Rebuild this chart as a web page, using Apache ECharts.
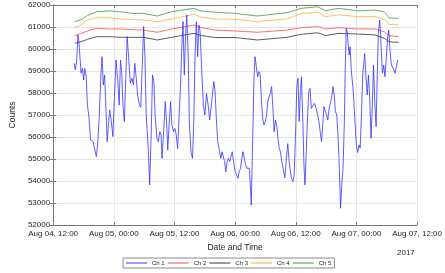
<!DOCTYPE html>
<html><head><meta charset="utf-8">
<script src="https://cdn.jsdelivr.net/npm/echarts@6/dist/echarts.min.js"></script>
<style>html,body{margin:0;padding:0;background:#fff}#c{width:445px;height:273px}</style>
</head><body><div id="c"></div>
<script>
// x values are hours after Aug 04, 12:00 (2017)
const xTickLabels = ['Aug 04, 12:00','Aug 05, 00:00','Aug 05, 12:00','Aug 06, 00:00','Aug 06, 12:00','Aug 07, 00:00','Aug 07, 12:00'];
const yearLabel = '2017';
const seriesNames = ['Ch 1','Ch 2','Ch 3','Ch 4','Ch 5'];

const ch1Hours = [4.15,4.39,4.66,4.90,5.09,5.28,5.52,5.79,6.03,6.28,6.54,6.78,7.11,7.41,7.67,7.92,8.16,8.54,8.80,9.10,9.42,9.67,9.93,10.18,10.42,10.69,10.93,11.18,11.44,11.82,12.12,12.44,12.76,13.06,13.32,13.57,13.81,14.08,14.32,14.64,14.95,15.27,15.59,15.89,16.15,16.45,16.72,17.09,17.34,17.90,18.15,18.41,18.85,19.09,19.41,19.66,19.92,20.17,20.54,20.79,21.11,21.35,21.54,21.86,22.18,22.43,22.67,22.94,23.24,23.50,23.80,24.07,24.31,24.63,24.93,25.20,25.44,25.69,25.95,26.20,26.44,26.71,26.95,27.27,27.57,27.84,28.08,28.33,28.59,28.84,29.08,29.40,29.72,30.02,30.34,30.66,30.97,31.29,31.79,32.04,32.28,32.55,32.93,33.17,33.42,33.68,33.92,34.17,34.43,34.68,34.92,35.19,35.43,35.68,36.00,36.32,36.56,36.81,37.07,37.32,37.56,37.83,38.07,38.32,38.58,38.82,39.07,39.20,39.45,39.71,39.95,40.20,40.46,40.71,40.95,41.22,41.46,41.71,41.97,42.22,42.46,42.73,42.97,43.22,43.48,43.72,43.97,44.23,44.48,44.72,44.99,45.23,45.48,45.84,46.17,46.42,46.68,46.93,47.17,47.44,47.68,47.93,48.19,48.44,48.68,48.94,49.13,49.38,49.62,49.81,50.08,50.32,50.57,50.83,51.07,51.40,51.70,52.02,52.34,52.58,52.83,53.09,53.34,53.58,53.85,54.09,54.34,54.60,54.84,55.09,55.35,55.60,55.84,56.11,56.35,56.60,56.86,57.10,57.35,57.61,57.80,57.99,58.18,58.37,58.56,58.75,58.99,59.37,59.74,59.99,60.25,60.50,60.74,61.01,61.25,61.63,61.87,62.14,62.38,62.63,62.89,63.14,63.38,63.65,63.89,64.14,64.32,64.59,64.78,64.96,65.15,65.40,65.64,65.91,66.15,66.40,66.66,66.91,67.15,67.41,67.66,67.90,68.17];
const ch1 = [59350,59050,59500,60640,60330,59730,58900,59120,58590,59120,58740,57450,56850,55860,55940,55790,55480,55110,55640,56850,58670,59650,58360,58820,57450,55790,56550,57230,56850,56020,57760,59500,58670,57450,59500,58970,57450,56700,58360,60560,59580,58440,58670,58360,59350,58670,57910,57450,57350,61020,59730,57000,55330,53820,56240,58820,58520,57000,55940,55790,56240,56090,55030,56240,57610,56700,55410,56550,57610,56550,56240,56390,56170,55480,57000,58360,60030,61250,58820,60640,61550,59730,56700,55330,55030,56850,59730,61240,59650,61090,60790,58970,57450,57000,57980,57450,56770,56700,58520,58060,56850,55790,55330,55030,55330,55410,54880,54420,54880,55030,54880,55110,55330,54880,54420,54270,54120,54420,54580,55030,55330,55030,54730,54580,54650,54580,53520,52910,55640,58520,59650,59200,58740,58970,58820,57610,56850,56550,56700,57000,57610,57830,57980,58290,57300,56240,56770,56550,55940,55480,55330,54880,54580,54150,55100,55700,54880,54420,54120,53970,54270,55940,58210,58670,56700,58210,58740,56850,54730,53820,55330,56850,58060,58210,57300,57380,57530,57300,57000,56700,56240,55790,56550,57380,57450,57000,56770,57300,57530,57760,58290,57910,57150,57000,56090,54730,52760,53820,54580,56700,59270,60940,60790,60180,59730,60100,59000,58100,56600,55600,55300,55640,55490,57150,58820,59800,58820,57910,58820,57760,55940,57450,59270,57450,56470,58970,60640,61320,60640,59730,58900,59270,58740,59580,60490,60860,59880,59270,59200,59050,58900,59200,59500];

const slowHours = [4.28,5.52,6.78,8.67,11.18,13.70,15.64,17.85,20.60,23.43,27.84,29.08,32.10,36.00,40.39,46.23,49.19,52.34,53.90,56.41,60.37,63.65,65.53,66.47,68.36];
const ch2 = [60600,60710,60820,60940,60910,60910,60880,60860,60760,60910,61090,60980,60860,60820,60760,60860,60970,61020,60910,60970,60910,60910,60780,60610,60560];
const ch3 = [60260,60330,60440,60560,60560,60530,60530,60530,60410,60530,60710,60620,60520,60520,60410,60530,60670,60740,60610,60710,60680,60640,60480,60330,60300];
const ch4 = [60970,61090,61320,61420,61420,61360,61340,61320,61240,61360,61580,61450,61360,61360,61240,61370,61620,61670,61470,61550,61470,61470,61340,61120,61090];
const ch5 = [61240,61330,61520,61700,61730,61680,61620,61620,61500,61700,61850,61730,61670,61620,61500,61650,61850,61920,61740,61850,61730,61770,61680,61420,61390];

const colors = ['#3535ff','#ff4a4a','#333333','#ffb03a','#3aa03a'];
const font = "'Liberation Sans', Arial, Helvetica, sans-serif";
const txt = '#262626';
const pair = (xs, ys) => xs.map((x, i) => [x, ys[i]]);
const data = [pair(ch1Hours, ch1), pair(slowHours, ch2), pair(slowHours, ch3), pair(slowHours, ch4), pair(slowHours, ch5)];

const chart = echarts.init(document.getElementById('c'), null, {renderer: 'canvas'});
const axisLine = {show: true, lineStyle: {color: '#7a7a7a', width: 1}};
const tick = {show: true, inside: true, length: 3, lineStyle: {color: '#7a7a7a'}};
const split = {show: true, lineStyle: {color: '#e6e6e6', width: 1}};
chart.setOption({
  animation: false,
  backgroundColor: '#fff',
  textStyle: {fontFamily: font},
  grid: {left: 39, right: 24, top: 5, bottom: 48, containLabel: false},
  xAxis: [{
    type: 'value', min: 0, max: 72, interval: 12,
    axisLine, axisTick: tick, splitLine: split,
    axisLabel: {color: txt, fontSize: 8, fontFamily: font, margin: 5,
      formatter: v => xTickLabels[Math.round(v / 12)]},
    name: 'Date and Time', nameLocation: 'middle', nameGap: 13,
    nameTextStyle: {color: txt, fontSize: 8.5, fontFamily: font}
  }, {
    type: 'value', position: 'top', min: 0, max: 72, interval: 12,
    axisLine, axisTick: tick, splitLine: {show: false}, axisLabel: {show: false}
  }],
  yAxis: [{
    type: 'value', min: 52000, max: 62000, interval: 1000,
    axisLine, axisTick: tick, splitLine: split,
    axisLabel: {color: txt, fontSize: 8, fontFamily: font, margin: 3, formatter: v => String(v)},
    name: 'Counts', nameLocation: 'middle', nameGap: 30,
    nameTextStyle: {color: txt, fontSize: 8.5, fontFamily: font}
  }, {
    type: 'value', position: 'right', min: 52000, max: 62000, interval: 1000,
    axisLine, axisTick: tick, splitLine: {show: false}, axisLabel: {show: false}
  }],
  legend: {
    left: 123, top: 258, orient: 'horizontal',
    icon: 'rect', itemWidth: 21, itemHeight: 1, itemGap: 3,
    padding: [2, 3], borderColor: '#8a8a8a', borderWidth: 1, backgroundColor: '#fff',
    textStyle: {color: txt, fontSize: 6, fontFamily: font},
    data: seriesNames
  },
  graphic: [{
    type: 'text', left: 397, top: 249,
    style: {text: yearLabel, fill: txt, fontSize: 8, fontFamily: font}
  }],
  series: data.map((d, i) => ({
    name: seriesNames[i], type: 'line', data: d, symbol: 'none', showSymbol: false,
    lineStyle: {color: colors[i], width: 0.8}, itemStyle: {color: colors[i]},
    z: 10 - i, silent: true
  }))
});
</script></body></html>
